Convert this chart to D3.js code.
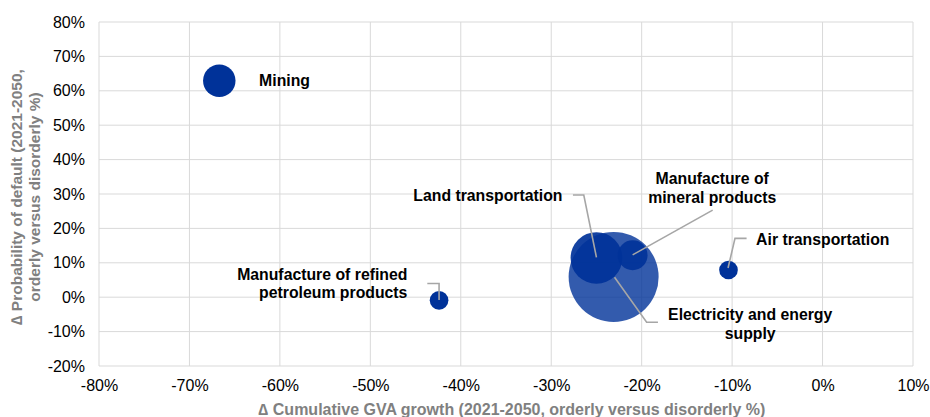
<!DOCTYPE html>
<html><head><meta charset="utf-8">
<script src="https://cdn.jsdelivr.net/npm/d3@7"></script>
<style>body{margin:0;background:#fff}svg{display:block;font-family:"Liberation Sans",Arial,sans-serif}</style>
</head><body><svg id="c" width="930" height="417"></svg>
<script>
// ---- data ----
const sectors = ["Mining","Manufacture of refined petroleum products","Land transportation","Electricity and energy supply","Manufacture of mineral products","Air transportation"];
const gvaGrowth = [-66.7, -42.4, -25.0, -23.1, -21.0, -10.4];   // x, %
const pdChange  = [62.9, -0.9, 11.4, 5.9, 12.2, 7.9];           // y, %
const bubbleSize = [13, 4.3, 33, 100, 11, 4.3];
const xTicks = [-80,-70,-60,-50,-40,-30,-20,-10,0,10];
const yTicks = [-20,-10,0,10,20,30,40,50,60,70,80];
const xTitle = "\u2206 Cumulative GVA growth (2021-2050, orderly versus disorderly %)";
const yTitle = ["\u2206 Probability of default (2021-2050,", "orderly versus disorderly %)"];
// label placement (in data units) and leader lines
const labelLines = [["Mining"],["Manufacture of refined","petroleum products"],["Land transportation"],["Electricity and energy","supply"],["Manufacture of","mineral products"],["Air transportation"]];
const labelPos = [[-62.3,62.9,"start"],[-45.9,4.0,"end"],[-37.0,29.7,"middle"],[-8.0,-7.8,"middle"],[-12.2,31.7,"middle"],[-7.35,16.9,"start"]];
const leaders = [
  null,
  [[-43.7,4.0],[-42.4,4.0],[-42.4,-0.8]],
  [[-27.6,29.7],[-26.4,29.7],[-25.0,11.6]],
  [[-23.0,5.8],[-19.45,-7.3],[-18.2,-7.3]],
  [[-12.15,25.3],[-21.0,12.3]],
  [[-10.45,8.5],[-9.68,17.1],[-8.4,17.1]]
];
const fillOpacity = [1, 1, 0.92, 0.8, 0.9, 1];

// ---- chart ----
const W=930,H=417,m={l:99,r:17,t:22,b:51};
const svg=d3.select("#c");
const x=d3.scaleLinear().domain([-80,10]).range([m.l,W-m.r]);
const y=d3.scaleLinear().domain([-20,80]).range([H-m.b,m.t]);
const r=d3.scaleSqrt().domain([0,100]).range([0,45]);
const fmt=d=>d+"%";

const g=svg.append("g");
g.selectAll(".gx").data(xTicks).join("line").attr("x1",d=>x(d)).attr("x2",d=>x(d)).attr("y1",y(-20)).attr("y2",y(80)).attr("stroke","#d9d9d9").attr("stroke-width",1);
g.selectAll(".gy").data(yTicks).join("line").attr("y1",d=>y(d)).attr("y2",d=>y(d)).attr("x1",x(-80)).attr("x2",x(10)).attr("stroke","#d9d9d9").attr("stroke-width",1);

const xa=svg.append("g").attr("transform",`translate(0,${H-m.b})`).call(d3.axisBottom(x).tickValues(xTicks).tickFormat(fmt).tickSize(0).tickPadding(14));
const ya=svg.append("g").attr("transform",`translate(${m.l},0)`).call(d3.axisLeft(y).tickValues(yTicks).tickFormat(fmt).tickSize(0).tickPadding(14));
[xa,ya].forEach(a=>{a.select(".domain").remove();a.selectAll("text").attr("font-size","16px").attr("fill","#000").attr("font-family","Liberation Sans, Arial, sans-serif");});

svg.append("text").attr("x",(x(-80)+x(10))/2+6).attr("y",415).attr("text-anchor","middle").attr("font-size","16px").attr("font-weight","bold").attr("fill","#808080").text(xTitle);
yTitle.forEach((t,i)=>{
  svg.append("text").attr("transform",`translate(${22+i*18},197) rotate(-90)`).attr("text-anchor","middle").attr("font-size","15.5px").attr("font-weight","bold").attr("fill","#808080").text(t);
});

// bubbles: draw largest first
const idx=d3.range(sectors.length).sort((a,b)=>bubbleSize[b]-bubbleSize[a]);
svg.append("g").selectAll("circle").data(idx).join("circle")
  .attr("cx",i=>x(gvaGrowth[i])).attr("cy",i=>y(pdChange[i])).attr("r",i=>r(bubbleSize[i]))
  .attr("fill","#003299").attr("fill-opacity",i=>fillOpacity[i]);

// leaders
const line=d3.line().x(p=>x(p[0])).y(p=>y(p[1]));
svg.append("g").selectAll("path").data(leaders.filter(l=>l)).join("path").attr("d",line).attr("fill","none").attr("stroke","#a6a6a6").attr("stroke-width",1.6);

// labels
labelLines.forEach((lines,i)=>{
  const [lx,ly,anc]=labelPos[i];
  const n=lines.length, lh=18.5;
  const t=svg.append("text").attr("text-anchor",anc).attr("font-size","15.8px").attr("font-weight","bold").attr("fill","#000");
  lines.forEach((s,k)=>{
    t.append("tspan").attr("x",x(lx)).attr("y",y(ly)+(k-(n-1)/2)*lh+5.5).text(s);
  });
});
</script></body></html>
